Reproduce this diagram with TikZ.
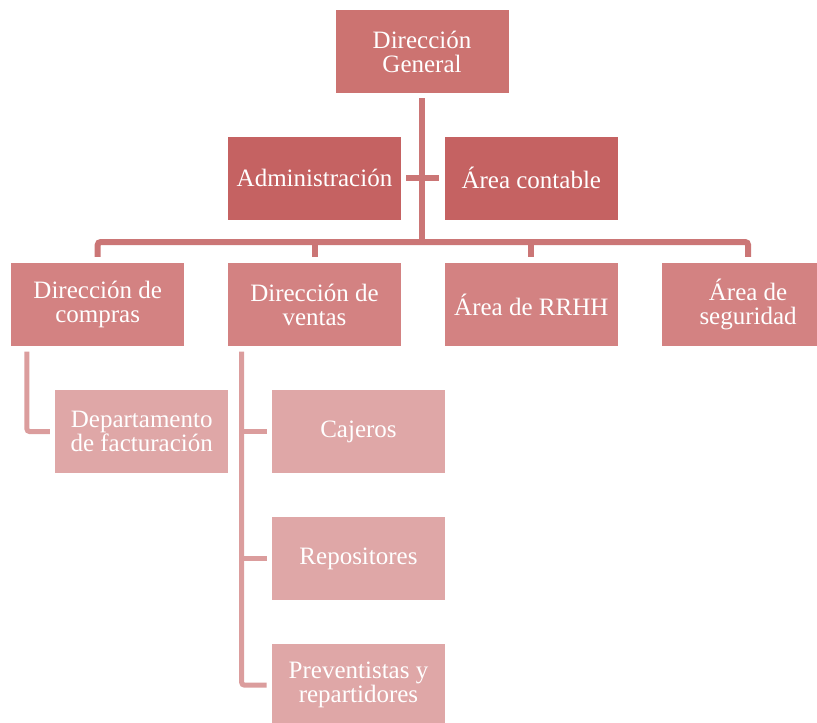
\documentclass[tikz,border=0pt]{standalone}
\usepackage{fontspec}
\setmainfont{Liberation Serif}
\usepackage{xcolor}
\usetikzlibrary{positioning}

\definecolor{headred}{HTML}{CC7371}
\definecolor{staffred}{HTML}{C56262}
\definecolor{arearose}{HTML}{D38282}
\definecolor{unitrose}{HTML}{DFA7A7}
\definecolor{linkred}{HTML}{CB7676}
\definecolor{sublinkrose}{HTML}{DB9D9D}

\begin{document}
\begin{tikzpicture}[
  x=0.5pt, y=-0.5pt,
  node distance=21.5pt and 21.5pt,
  orgbox/.style={rectangle, draw=none, minimum width=86.5pt, minimum height=41.5pt, inner sep=0pt, text=white, align=center, font=\fontsize{12.5}{12}\selectfont},
  headbox/.style={orgbox, fill=headred},
  staffbox/.style={orgbox, fill=staffred},
  areabox/.style={orgbox, fill=arearose},
  unitbox/.style={orgbox, fill=unitrose},
  link/.style={line width=3pt, draw=linkred, rounded corners=1.5pt},
  sublink/.style={line width=2.5pt, draw=sublinkrose, rounded corners=1.5pt, shorten <=2.5pt, shorten >=2.5pt}
]
\useasboundingbox (0,0) rectangle (817,722);
\clip (0,0) rectangle (817,722);

% Direccion y staff
\node (dg) [headbox] at (422,51.5) {Dirección\\General};
\node (admin) [staffbox] at (314.5,178) {Administración};
\node (contable) [staffbox, right=of admin] {Área contable};

% Areas
\node (ventas) [areabox, below=of admin] {Dirección de\\ventas};
\node (compras) [areabox, left=of ventas] {Dirección de\\compras};
\node (rrhh) [areabox, right=of ventas] {Área de RRHH};
\node (seg) [areabox, right=of rrhh] {Área de\\seguridad};

% Departamentos
\node (factura) [unitbox, below=of compras, xshift=22pt] {Departamento\\de facturación};
\node (cajeros) [unitbox, below=of ventas, xshift=22pt] {Cajeros};
\node (repo) [unitbox, below=of cajeros] {Repositores};
\node (prev) [unitbox, below=of repo] {Preventistas y\\repartidores};

% Lineas
\coordinate (bus) at (422,242);
\draw [link, shorten <=2.5pt] (dg.south) -- (bus);
\draw [link, shorten <=3pt, shorten >=3pt] (compras.north) |- (bus) -| (seg.north);
\draw [link, shorten <=3pt] (ventas.north) -- (ventas.north |- bus);
\draw [link, shorten <=3pt] (rrhh.north) -- (rrhh.north |- bus);
\draw [link, shorten <=2.5pt, shorten >=2.5pt] (admin) -- (contable);

\draw [sublink] ([xshift=8pt]compras.south west) |- (factura.west);
\coordinate (spine) at ([xshift=7pt]ventas.south west);
\draw [sublink] (spine) |- (prev.west);
\foreach \n in {cajeros, repo}
  \draw [sublink, shorten <=0pt] (spine |- \n.west) -- (\n.west);
\end{tikzpicture}
\end{document}
